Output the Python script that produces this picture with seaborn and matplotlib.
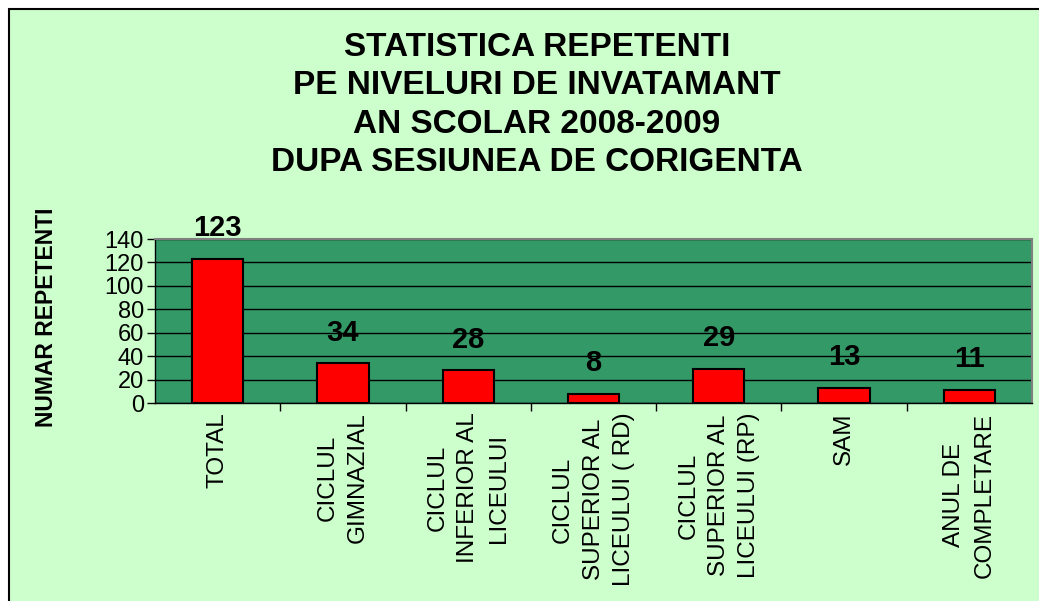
import matplotlib
matplotlib.use("Agg")
import matplotlib.pyplot as plt
from matplotlib.patches import Rectangle
import numpy as np
import pandas as pd
import seaborn as sns

# data
categories = [
    "TOTAL",
    "CICLUL\nGIMNAZIAL",
    "CICLUL\nINFERIOR AL\nLICEULUI",
    "CICLUL\nSUPERIOR AL\nLICEULUI ( RD)",
    "CICLUL\nSUPERIOR AL\nLICEULUI (RP)",
    "SAM",
    "ANUL DE\nCOMPLETARE",
]
repetenti = [123, 34, 28, 8, 29, 13, 11]
y_ticks = [0, 20, 40, 60, 80, 100, 120, 140]

title = ("STATISTICA REPETENTI\nPE NIVELURI DE INVATAMANT\n"
         "AN SCOLAR 2008-2009\nDUPA SESIUNEA DE CORIGENTA")
y_label = "NUMAR REPETENTI"

sns.set_style("white")
plt.rcParams["font.family"] = ["Liberation Sans", "DejaVu Sans"]
plt.rcParams["text.color"] = "black"
plt.rcParams["axes.labelcolor"] = "black"
plt.rcParams["xtick.color"] = "black"
plt.rcParams["ytick.color"] = "black"

df = pd.DataFrame({"categorie": categories, "repetenti": repetenti})

fig = plt.figure(figsize=(10.39, 6.01), dpi=100, facecolor="white")

# light green chart area with a black frame on top / left
fig.patches.append(Rectangle((9 / 1039, -0.05), 1.1, 1.05 - 9 / 601,
                             transform=fig.transFigure, facecolor="#CCFFCC",
                             edgecolor="black", linewidth=1.5, zorder=-10))

ax = fig.add_axes([155 / 1039, 1 - 403 / 601, (1032 - 155) / 1039, 164 / 601])
ax.set_facecolor("#339966")

sns.barplot(data=df, x="categorie", y="repetenti", color="#FF0000",
            saturation=1, width=0.41, edgecolor="black", linewidth=1.5,
            ax=ax, zorder=3)

ax.set_ylim(0, 140)
ax.set_xlim(-0.5, len(categories) - 0.5)
ax.set_yticks(y_ticks)
ax.yaxis.grid(True, color="black", linewidth=1)
ax.set_axisbelow(True)

for side in ["top", "right"]:
    ax.spines[side].set_color("#808080")
    ax.spines[side].set_linewidth(1.5)
for side in ["left", "bottom"]:
    ax.spines[side].set_color("black")
    ax.spines[side].set_linewidth(1)

ax.tick_params(axis="y", labelsize=17, length=6, width=1, direction="out",
               left=True, pad=2)
ax.tick_params(axis="x", which="major", length=0, pad=7)
ax.set_xticks(np.arange(0.5, len(categories) - 0.5), minor=True)
ax.tick_params(axis="x", which="minor", length=6, width=1, direction="out",
               bottom=True)

ax.set_xticks(range(len(categories)))
ax.set_xticklabels(categories, rotation=90, fontsize=17.5, va="top",
                   ha="center", multialignment="center", linespacing=1.5)

ax.set_xlabel("")
ax.set_ylabel(y_label, fontsize=16.5, fontweight="bold")
ax.yaxis.set_label_coords(-0.111, 0.52)

ax.bar_label(ax.containers[0], fontsize=21, fontweight="bold", padding=12,
             color="black")

fig.text(537 / 1039, 1 - 105 / 601, title, ha="center", va="center",
         fontsize=24, fontweight="bold", linespacing=1.3)

fig.savefig("out.png", dpi=100, facecolor=fig.get_facecolor())
